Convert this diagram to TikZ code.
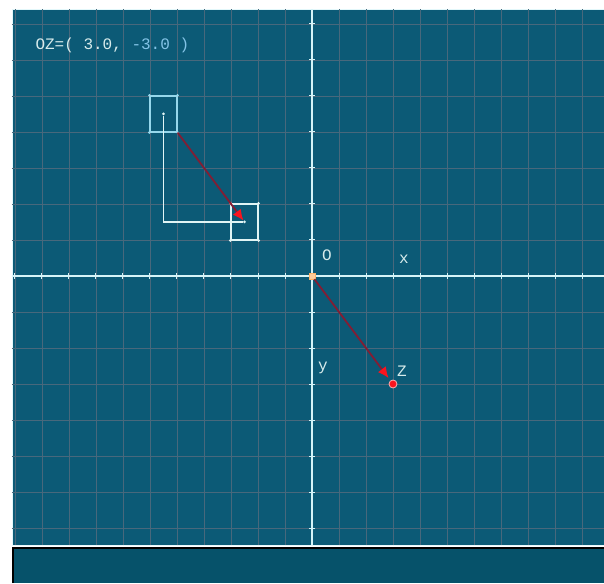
\documentclass[tikz,border=0pt]{standalone}
\usepackage{fontspec}
\newfontfamily\screenfont{Liberation Mono}
\usetikzlibrary{arrows.meta}
\definecolor{screenbg}{RGB}{12,90,118}
\definecolor{panelbg}{RGB}{6,82,106}
\definecolor{gridcol}{RGB}{72,104,124}
\definecolor{axiscol}{RGB}{214,244,248}
\definecolor{boxblue}{RGB}{150,215,235}
\definecolor{boxwhite}{RGB}{225,245,245}
\definecolor{vecred}{RGB}{130,30,52}
\definecolor{tipred}{RGB}{250,20,30}
\definecolor{labelcol}{RGB}{215,235,235}
\definecolor{valuecol}{RGB}{130,195,230}
\begin{document}
\begin{tikzpicture}
[x=27pt, y=36pt,
  griddecorate/.style={gridcol, line width=0.9pt},
  axisdecorate/.style={axiscol, line width=1.4pt},
  tickdecorate/.style={axiscol, line width=1pt},
  boxdecorate/.style={draw, line width=1.2pt, minimum width=27pt,
    minimum height=36pt, inner sep=0pt},
  dotdecorate/.style={circle, fill, inner sep=0pt, minimum size=3pt},
  vecdecorate/.style={vecred, line width=1.8pt,
    -{Latex[length=11pt, width=10pt, color=tipred]}},
  labeldecorate/.style={labelcol, font=\screenfont\fontsize{16}{16}\selectfont}]
\useasboundingbox (-312pt,-307pt) rectangle (292pt,276pt);
%% screen and bottom bar
\fill[white] (-312pt,-307pt) rectangle (292pt,276pt);
\fill[screenbg] (-300pt,-270pt) rectangle (292pt,267pt);
\draw[axiscol!70, line width=0.8pt] (-300pt,-269pt) -- (-300pt,267pt) -- (292pt,267pt);
\draw[axiscol!60, line width=0.8pt] (-300pt,-269pt) -- (292pt,-269pt);
\fill[panelbg] (-300pt,-272pt) rectangle (292pt,-307pt);
\draw[black, line width=1.2pt] (-299pt,-307pt) -- (-299pt,-272pt) -- (292pt,-272pt);
%% grid
\foreach \k in {-11,...,10}
{
  \draw[griddecorate] (\k,-269pt) -- (\k,267pt);
}
\foreach \k in {-7,...,7}
{
  \draw[griddecorate] (-300pt,\k) -- (292pt,\k);
}
%% axes
\draw[axisdecorate] (-300pt,0) -- (292pt,0);
\draw[axisdecorate] (0,-269pt) -- (0,267pt);
\foreach \k in {-11,...,10}
{
  \draw[tickdecorate] (\k,-3pt) -- (\k,3pt);
}
\foreach \k in {-7,...,7}
{
  \draw[tickdecorate] (-3pt,\k) -- (3pt,\k);
}
%% boxes and their corners
\node (boxa) at (-5.5,4.5) [boxdecorate, boxblue] {};
\node (boxb) at (-2.5,1.5) [boxdecorate, boxwhite] {};
\foreach \boxname/\colour in {boxa/boxblue, boxb/boxwhite}
{
  \foreach \corner in {north west, north east, south west, south east}
  {
    \node at (\boxname.\corner) [dotdecorate, \colour] {};
  }
}
\node (pa) at (boxa.center) [dotdecorate, boxwhite] {};
\node (pb) at (boxb.center) [dotdecorate, boxwhite] {};
\node at (boxb.north west) [dotdecorate, tipred!70] {};
%% vertices and labels
\node (o) at (0,0) [fill=orange!40, draw=orange!60, inner sep=0pt,
  minimum size=6pt] {};
\node (z) at (3,-3) [circle, fill=tipred, draw=red!30, line width=0.8pt,
  inner sep=0pt, minimum size=8pt] {};
\node (olabel) at (15pt,21pt) [labeldecorate] {O};
\node (xlabel) at (92pt,17pt) [labeldecorate] {x};
\node (ylabel) at (11pt,-92pt) [labeldecorate] {y};
\node (zlabel) at (90pt,-95pt) [labeldecorate] {Z};
\node (value) at (-280pt,231pt) [anchor=west, labeldecorate] {OZ=( 3.0,
  \textcolor{valuecol}{-3.0 )}};
%% edges or lines
\draw[boxwhite, line width=1.2pt] (pa) -- (pa |- pb) -- (pb);
\draw[vecdecorate] (boxa.south east) -- (pb);
\draw[vecdecorate, shorten >=3pt] (o) -- (z);
\end{tikzpicture}
\end{document}
